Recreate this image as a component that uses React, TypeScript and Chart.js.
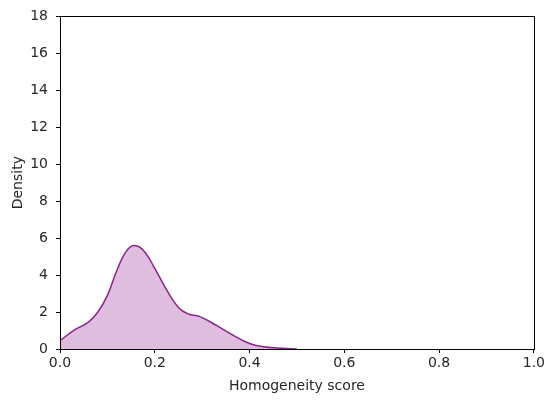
import React, { useEffect, useRef } from "react";
import { Chart, registerables } from "chart.js";

Chart.register(...registerables);

// Kernel density estimate of homogeneity scores
const scoreX: number[] = [
  0.0, 0.03, 0.06, 0.08, 0.1, 0.12, 0.14, 0.158, 0.178, 0.2, 0.225, 0.25,
  0.27, 0.295, 0.33, 0.365, 0.4, 0.43, 0.46, 0.5,
];
const densityY: number[] = [
  0.45, 1.02, 1.45, 2.0, 2.9, 4.25, 5.3, 5.6, 5.28, 4.36, 3.2, 2.25,
  1.9, 1.75, 1.28, 0.75, 0.3, 0.12, 0.05, 0.0,
];

const xLabel = "Homogeneity score";
const yLabel = "Density";

const TEXT = "#262626";
const FONT = "'DejaVu Sans', sans-serif";

const framePlugin = {
  id: "frame",
  afterDraw(chart: any) {
    const { ctx, chartArea } = chart;
    ctx.save();
    ctx.strokeStyle = "#000";
    ctx.lineWidth = 1;
    ctx.strokeRect(
      Math.round(chartArea.left) + 0.5,
      Math.round(chartArea.top) + 0.5,
      Math.round(chartArea.right - chartArea.left),
      Math.round(chartArea.bottom - chartArea.top)
    );
    ctx.restore();
  },
};

export default function App() {
  const ref = useRef<HTMLCanvasElement | null>(null);

  useEffect(() => {
    if (!ref.current) return;
    const points = scoreX.map((x, i) => ({ x, y: densityY[i] }));
    const chart = new Chart(ref.current, {
      type: "line",
      data: {
        datasets: [
          {
            data: points,
            borderColor: "#8b238b",
            borderWidth: 1.5,
            backgroundColor: "rgba(128, 0, 128, 0.26)",
            fill: "origin",
            pointRadius: 0,
            tension: 0.4,
          },
        ],
      },
      options: {
        animation: false,
        responsive: false,
        maintainAspectRatio: false,
        layout: { padding: { top: 16, right: 10, left: 0, bottom: 0 } },
        plugins: { legend: { display: false }, tooltip: { enabled: false } },
        scales: {
          x: {
            type: "linear",
            min: 0,
            max: 1,
            afterFit: (s: any) => {
              s.height = 51;
            },
            ticks: {
              stepSize: 0.2,
              color: TEXT,
              font: { family: FONT, size: 14 },
              padding: 2,
              maxRotation: 0,
              callback: (v: any) => Number(v).toFixed(1),
            },
            grid: {
              display: true,
              drawOnChartArea: false,
              drawTicks: true,
              tickLength: 4,
              color: "#000",
            },
            border: { display: true, color: "#000", width: 1 },
            title: {
              display: true,
              text: xLabel,
              color: TEXT,
              font: { family: FONT, size: 14 },
              padding: { top: 4, bottom: 5 },
            },
          },
          y: {
            type: "linear",
            min: 0,
            max: 18,
            afterFit: (s: any) => {
              s.width = 60;
            },
            ticks: {
              stepSize: 2,
              color: TEXT,
              font: { family: FONT, size: 14 },
              padding: 8,
            },
            grid: {
              display: true,
              drawOnChartArea: false,
              drawTicks: true,
              tickLength: 4,
              color: "#000",
            },
            border: { display: true, color: "#000", width: 1 },
            title: {
              display: true,
              text: yLabel,
              color: TEXT,
              font: { family: FONT, size: 14 },
              padding: { top: 10, bottom: 4 },
            },
          },
        },
      },
      plugins: [framePlugin],
    });
    return () => chart.destroy();
  }, []);

  return (
    <div style={{ position: "fixed", left: 0, top: 0, width: 547, height: 400, background: "#fff" }}>
      <canvas ref={ref} width={547} height={400} style={{ width: 547, height: 400 }} />
    </div>
  );
}
